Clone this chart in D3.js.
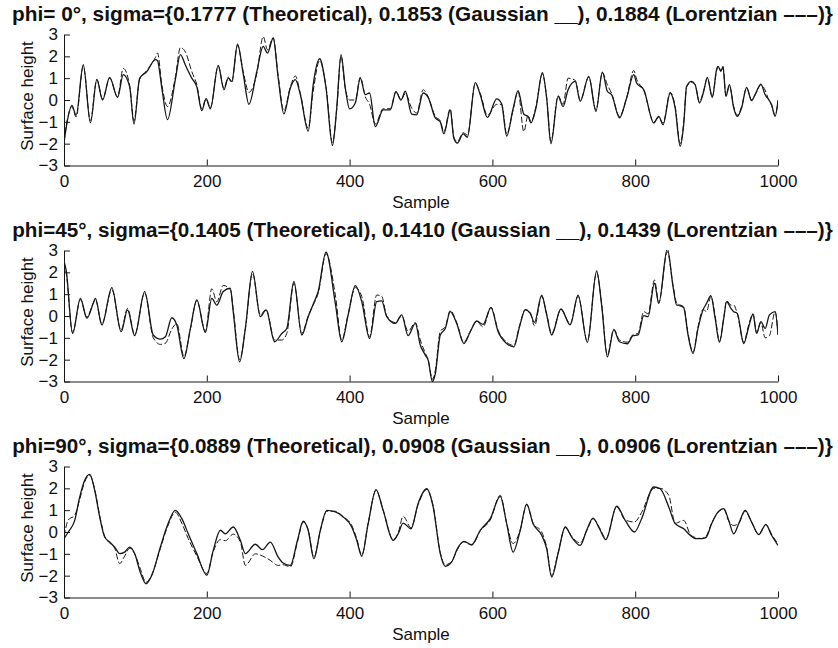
<!DOCTYPE html>
<html>
<head>
<meta charset="utf-8">
<script src="https://cdn.jsdelivr.net/npm/d3@7"></script>
<style>
html, body { margin: 0; padding: 0; background: #fff; }
svg { display: block; }
text { font-family: "Liberation Sans", Arial, Helvetica, sans-serif; fill: #111; }
</style>
</head>
<body>
<svg id="chart" width="838" height="648"></svg>
<script>
// ---- Panel titles ----
const titles = [
  "phi= 0°, sigma={0.1777 (Theoretical), 0.1853 (Gaussian __), 0.1884 (Lorentzian –––)}",
  "phi=45°, sigma={0.1405 (Theoretical), 0.1410 (Gaussian __), 0.1439 (Lorentzian –––)}",
  "phi=90°, sigma={0.0889 (Theoretical), 0.0908 (Gaussian __), 0.0906 (Lorentzian –––)}"
];
const xTicks = [0, 200, 400, 600, 800, 1000];
const yTicks = [-3, -2, -1, 0, 1, 2, 3];
const xLabel = "Sample";
const yLabel = "Surface height";

// ---- phi = 0° ----
const p1Sample = [0,5,11,17,27,37,46,54,64,75, 83,92,98,106,116,128,131,137,145,156,
  163,170,179,186,193,199,205,216,224,230, 235,243,251,259,270,279,285,293,300,308,
  317,324,331,342,349,358,367,376,382,388, 394,400,408,415,422,428,436,447,457,465,
  472,478,487,494,503,510,520,527,532,541, 546,551,559,565,576,583,593,606,613,620,
  629,636,644,650,654,661,670,676,682,692, 699,706,716,723,735,745,754,761,767,778,
  788,798,802,812,826,833,839,849,856,863, 868,872,879,884,890,896,901,908,914,916,
  920,923,927,932,938,943,949,956,963,969, 976,982,987,991,996,1000];
const p1Gauss = [-1.95,-0.9,-0.25,-0.7,1.62,-1.05,0.93,0.0,1.04,0.12,
  1.16,0.6,-1.1,1.0,1.3,1.85,1.8,0.55,-0.9,0.95,
  2.08,1.6,1.0,0.6,-0.49,0.06,-0.4,1.59,0.47,1.0,
  0.85,2.56,1.2,-0.2,1.3,2.46,2.15,2.84,1.0,-0.64,
  0.55,0.93,0.25,-1.43,0.7,1.89,0.55,-2.08,-0.37,2.08,
  0.55,-0.41,-0.14,1.0,0.25,0.32,-1.22,-0.45,-0.45,0.37,
  0.0,0.4,-0.65,-0.68,0.32,0.12,-0.82,-1.0,-1.55,-0.45,
  -1.75,-1.97,-1.55,-1.7,0.8,0.24,-0.8,0.05,-0.18,-1.65,
  -0.4,0.43,-0.65,-0.75,-1.05,-0.37,1.25,0.09,-2.0,0.17,
  -0.3,0.47,0.85,-0.06,1.08,-0.52,1.28,0.4,0.24,-0.82,
  0.09,1.16,0.78,0.47,-1.05,-0.75,-1.13,0.32,-0.37,-2.12,
  -1.1,0.63,0.85,0.7,-0.14,0.4,1.04,0.12,1.39,1.54,
  1.34,1.5,0.17,0.7,-0.37,-0.75,-0.37,0.58,-0.03,0.32,
  0.73,0.24,0.02,-0.21,-0.75,-0.03];
const p1Lorentz = [-1.9,-0.85,-0.3,-0.78,1.55,-0.95,0.95,0.05,1.0,0.15,
  1.45,0.65,-0.95,0.95,1.35,1.95,2.15,0.7,-0.3,1.05,
  2.4,2.2,1.3,0.7,-0.4,0.05,-0.35,1.55,0.55,1.05,
  0.8,2.5,1.3,0.35,1.2,2.9,2.3,2.85,1.1,-0.5,
  0.6,1.1,0.3,-1.3,0.4,1.8,0.6,-1.95,-0.4,2.0,
  0.5,0.0,0.0,1.05,0.15,-0.2,-1.1,-0.4,-0.4,0.4,
  0.0,0.3,-0.37,-0.6,0.47,0.15,-0.75,-0.95,-1.45,-0.4,
  -1.7,-1.9,-1.5,-1.6,0.75,0.3,-0.7,-0.2,-0.2,-1.55,
  -0.45,0.4,-1.45,-0.7,-1.0,-0.3,1.2,0.1,-1.9,0.2,
  -0.2,1.0,0.9,0.0,1.05,-0.45,1.25,0.7,0.3,-0.75,
  0.1,1.35,0.95,0.45,-1.0,-0.8,-1.05,0.35,-0.3,-2.0,
  -1.0,0.6,0.8,0.7,-0.1,0.45,1.0,0.15,1.35,1.55,
  1.3,1.55,0.2,0.65,-0.3,-0.7,-0.3,0.55,0.0,0.3,
  0.7,0.45,0.0,-0.25,-0.7,0.0];

// ---- phi = 45° ----
const p2Sample = [0,3,12,23,32,41,44,53,67,80, 89,99,113,125,135,142,151,158,168,177,
  186,198,207,214,223,233,237,246,254,264, 275,283,295,305,312,322,333,342,349,356,
  367,380,389,398,408,417,428,438,445,452, 464,473,482,492,499,506,510,516,520,527,
  534,541,550,560,569,578,587,598,608,620, 630,638,646,653,659,669,676,683,696,709,
  720,733,746,753,761,770,778,789,797,804, 812,818,827,833,845,853,858,863,868,874,
  881,888,895,900,906,912,918,924,928,934, 938,943,952,959,965,970,976,982,988,996,
  1000];
const p2Gauss = [2.5,2.1,-0.8,0.81,-0.1,0.58,0.81,-0.41,1.3,-0.72,
  0.28,-0.9,1.12,-0.87,-1.06,-0.95,-0.08,-0.41,-1.95,-0.57,
  0.74,-0.75,0.81,0.5,1.12,1.27,0.2,-2.1,-0.57,2.04,
  -0.03,0.28,-1.18,-0.8,-0.57,1.58,-0.87,-0.03,0.54,1.12,
  2.92,0.58,-1.18,0.05,1.39,0.66,-1.03,0.66,0.69,-0.03,
  -0.34,0.05,-0.9,-0.34,-1.33,-1.79,-2.02,-3.0,-2.65,-0.87,
  -0.57,0.2,-0.34,-1.26,-0.72,-0.23,-0.38,0.38,-0.72,-1.26,
  -1.41,-0.49,0.28,0.12,-0.29,0.96,0.05,-0.87,0.32,-0.41,
  0.96,-1.21,2.07,0.5,-1.87,-0.64,-1.18,-1.27,-0.9,-0.87,
  0.02,-0.03,1.5,0.58,3.08,1.35,0.5,0.5,0.38,-0.87,
  -1.72,-0.57,0.28,0.58,0.93,-0.11,-1.21,-0.11,0.66,0.35,
  0.2,0.12,-1.26,-0.49,0.08,-0.8,-0.26,-0.57,0.05,0.2,
  -0.87];
const p2Lorentz = [2.45,2.0,-0.75,0.75,-0.05,0.6,0.75,-0.35,1.2,-0.65,
  0.35,-0.85,1.05,-1.0,-1.3,-1.25,-0.6,-0.35,-1.85,-0.6,
  0.7,-0.7,1.25,0.65,1.4,1.2,0.3,-2.0,-0.6,1.95,
  0.05,0.3,-1.1,-1.1,-0.8,1.5,-0.8,0.0,0.5,1.05,
  2.85,0.96,-1.1,0.1,1.3,0.9,-0.95,0.96,0.9,0.0,
  -0.3,0.0,-0.7,-0.3,-1.1,-1.7,-2.0,-2.9,-2.5,-0.7,
  -0.5,0.25,-0.3,-1.2,-0.7,-0.25,-0.5,0.4,-0.65,-1.2,
  -1.35,-0.45,0.3,0.15,-0.45,0.9,0.1,-0.8,0.3,-0.35,
  0.9,-1.15,2.0,0.55,-1.8,-0.6,-1.1,-1.2,-0.85,-0.8,
  0.2,0.1,1.65,0.6,2.95,1.4,0.6,0.45,0.4,-0.8,
  -1.65,-0.5,0.3,0.2,0.9,0.0,-1.15,-0.1,0.7,0.5,
  0.5,0.1,-1.2,-0.4,0.1,-0.75,-0.3,-1.0,-0.9,0.2,
  -0.8];

// ---- phi = 90° ----
const p3Sample = [0,6,15,22,29,36,43,50,57,64, 71,78,85,92,99,106,115,123,135,144,
  156,165,174,186,200,209,219,226,237,247, 254,268,278,289,300,307,317,327,335,342,
  350,359,368,380,391,403,410,417,426,437, 447,461,468,475,486,496,508,517,527,534,
  543,551,560,571,583,597,611,620,629,639, 648,657,669,676,683,692,702,711,723,732,
  741,750,759,774,786,799,809,826,835,847, 856,868,877,884,893,899,907,916,924,931,
  938,945,954,963,973,983,991,1000];
const p3Gauss = [-0.3,0.0,0.53,1.6,2.37,2.64,1.91,0.69,-0.23,-0.46,
  -0.69,-0.99,-0.92,-0.69,-0.99,-1.76,-2.37,-1.98,-0.69,0.23,
  0.99,0.61,-0.08,-0.99,-1.98,-0.84,0.08,-0.08,0.23,-0.38,
  -0.99,-0.56,-0.81,-0.46,-1.15,-1.42,-1.53,-0.38,0.5,0.08,
  -1.22,0.08,0.99,0.92,0.69,0.23,-0.38,-1.11,0.38,1.94,
  0.99,-0.38,-0.08,0.41,0.15,1.31,1.98,1.15,-0.99,-1.57,
  -1.37,-0.76,-0.43,-0.58,0.08,0.61,1.63,0.38,-0.92,0.08,
  1.27,0.38,-0.15,-0.76,-2.06,-0.99,0.23,-0.23,-0.61,0.08,
  0.64,0.15,-0.35,1.18,0.53,0.0,0.61,2.06,1.98,1.15,
  0.38,0.15,-0.15,-0.3,-0.3,-0.26,0.38,0.92,1.07,0.53,
  -0.08,0.38,0.99,0.46,-0.12,0.34,-0.15,-0.61];
const p3Lorentz = [-0.2,0.55,0.76,1.5,2.3,2.6,1.95,0.75,-0.2,-0.5,
  -0.75,-1.45,-1.1,-0.75,-1.0,-1.6,-2.3,-1.95,-0.75,0.15,
  0.9,0.4,-0.3,-1.1,-1.9,-0.9,-0.35,-0.4,-0.1,-0.45,
  -1.53,-1.0,-1.1,-1.3,-1.53,-1.5,-1.6,-0.45,0.45,0.1,
  -1.15,0.05,0.95,0.95,0.7,0.3,-0.3,-1.05,0.4,1.9,
  1.0,-0.35,-0.05,0.72,0.2,1.25,1.95,1.2,-0.95,-1.5,
  -1.35,-0.8,-0.45,-0.6,0.05,0.55,1.68,0.4,-0.53,0.1,
  1.25,0.4,0.0,-0.7,-2.0,-0.95,0.2,-0.2,-0.5,0.05,
  0.6,0.2,-0.3,1.15,0.55,0.46,0.9,2.0,2.0,1.68,
  0.4,0.53,-0.1,-0.25,-0.3,-0.2,0.4,0.9,1.05,0.5,
  0.3,0.4,0.95,0.45,-0.1,0.35,-0.1,-0.55];

const panels = [
  { title: titles[0], sample: p1Sample, gauss: p1Gauss, lorentz: p1Lorentz },
  { title: titles[1], sample: p2Sample, gauss: p2Gauss, lorentz: p2Lorentz },
  { title: titles[2], sample: p3Sample, gauss: p3Gauss, lorentz: p3Lorentz }
];

// ---- layout ----
const svg = d3.select("#chart");
const left = 64, right = 778, plotH = 131;
const tops = [34.5, 250.5, 466.5];
const ink = "#161616";

const x = d3.scaleLinear().domain([0, 1000]).range([left, right]);

panels.forEach((p, i) => {
  const top = tops[i], bottom = top + plotH;
  const y = d3.scaleLinear().domain([-3, 3]).range([bottom, top]);
  const g = svg.append("g");

  // title, fitted to the figure width
  const t = g.append("text")
    .attr("x", 422.5).attr("y", top - 14)
    .attr("text-anchor", "middle")
    .style("font-weight", "bold").style("font-size", "16px")
    .text(p.title);
  const w16 = t.node().getComputedTextLength();
  t.style("font-size", (16 * 821 / w16).toFixed(2) + "px");

  // clip to the axes box
  const clipId = "clip" + i;
  svg.append("clipPath").attr("id", clipId)
    .append("rect").attr("x", left).attr("y", top - 0.5)
    .attr("width", right - left).attr("height", plotH + 1);

  const pts = (vals) => p.sample.map((s, k) => [s, vals[k]]);
  const line = d3.line()
    .x(d => x(d[0])).y(d => y(d[1]))
    .curve(d3.curveMonotoneX);

  const lines = g.append("g").attr("clip-path", `url(#${clipId})`);
  lines.append("path")
    .attr("d", line(pts(p.lorentz)))
    .attr("fill", "none").attr("stroke", ink)
    .attr("stroke-width", 1).attr("stroke-dasharray", "6,2.5");
  lines.append("path")
    .attr("d", line(pts(p.gauss)))
    .attr("fill", "none").attr("stroke", ink)
    .attr("stroke-width", 1.3);

  // axes (ticks point inward)
  const xAxis = d3.axisBottom(x).tickValues(xTicks)
    .tickSizeInner(-6).tickSizeOuter(0).tickPadding(9)
    .tickFormat(d3.format("d"));
  const yAxis = d3.axisLeft(y).tickValues(yTicks)
    .tickSizeInner(-6).tickSizeOuter(0).tickPadding(6)
    .tickFormat(d3.format("d"));

  const gx = g.append("g").attr("transform", `translate(0,${bottom})`).call(xAxis);
  const gy = g.append("g").attr("transform", `translate(${left},0)`).call(yAxis);
  [gx, gy].forEach(a => {
    a.selectAll("path, line").attr("stroke", ink).attr("stroke-width", 1);
    a.selectAll("text").attr("fill", "#111")
      .style("font-family", "'Liberation Sans', Arial, sans-serif")
      .style("font-size", "17px");
  });

  g.append("text")
    .attr("x", (left + right) / 2).attr("y", bottom + 42)
    .attr("text-anchor", "middle").style("font-size", "17px")
    .text(xLabel);

  g.append("text")
    .attr("transform", `translate(33,${(top + bottom) / 2 - 4}) rotate(-90)`)
    .attr("text-anchor", "middle").style("font-size", "17px")
    .text(yLabel);
});
</script>
</body>
</html>
